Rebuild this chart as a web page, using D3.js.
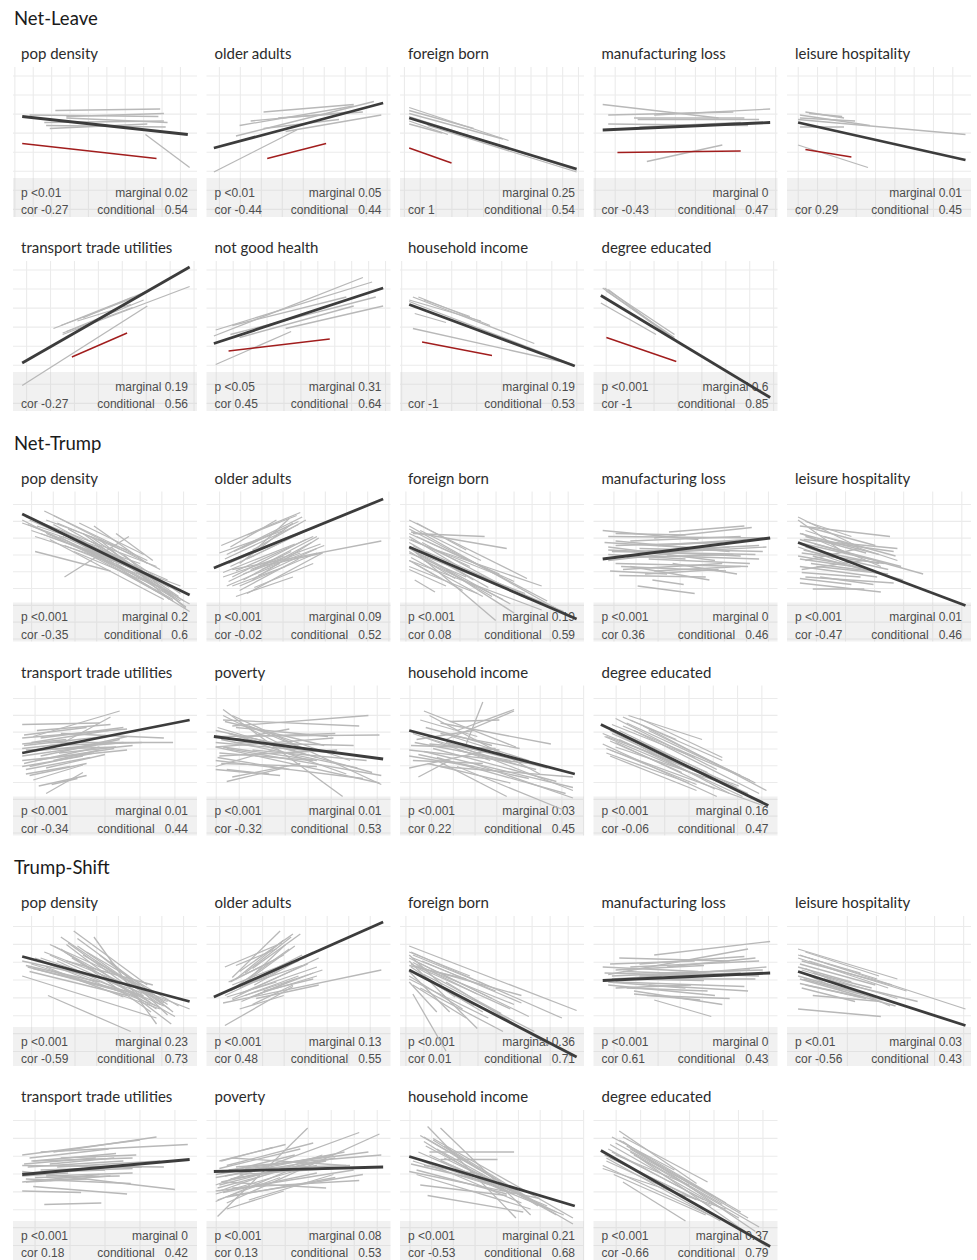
<!DOCTYPE html>
<html>
<head>
<meta charset="utf-8">
<script src="https://cdn.jsdelivr.net/npm/d3@7"></script>
<style>
  body { margin: 0; background: #fff; }
  svg { display: block; }
</style>
</head>
<body>
<svg id="chart" width="977" height="1260"></svg>
<script>
// ---------------------------------------------------------------
// Outcomes and predictors
// ---------------------------------------------------------------
const outcomes = ["Net-Leave", "Net-Trump", "Trump-Shift"];

const predictorsLeave = ["pop density", "older adults", "foreign born", "manufacturing loss", "leisure hospitality",
  "transport trade utilities", "not good health", "household income", "degree educated"];
const predictorsTrump = ["pop density", "older adults", "foreign born", "manufacturing loss", "leisure hospitality",
  "transport trade utilities", "poverty", "household income", "degree educated"];
const predictorsShift = ["pop density", "older adults", "foreign born", "manufacturing loss", "leisure hospitality",
  "transport trade utilities", "poverty", "household income", "degree educated"];

// ---------------------------------------------------------------
// Model summaries (p-value of slope variance, R2 marginal/conditional, slope-intercept cor)
// ---------------------------------------------------------------
const pLeave = ["<0.01", "<0.01", null, null, null, null, "<0.05", null, "<0.001"];
const marginalLeave = [0.02, 0.05, 0.25, 0, 0.01, 0.19, 0.31, 0.19, 0.6];
const corLeave = [-0.27, -0.44, 1, -0.43, 0.29, -0.27, 0.45, -1, -1];
const conditionalLeave = [0.54, 0.44, 0.54, 0.47, 0.45, 0.56, 0.64, 0.53, 0.85];

const pTrump = ["<0.001", "<0.001", "<0.001", "<0.001", "<0.001", "<0.001", "<0.001", "<0.001", "<0.001"];
const marginalTrump = [0.2, 0.09, 0.19, 0, 0.01, 0.01, 0.01, 0.03, 0.16];
const corTrump = [-0.35, -0.02, 0.08, 0.36, -0.47, -0.34, -0.32, 0.22, -0.06];
const conditionalTrump = [0.6, 0.52, 0.59, 0.46, 0.46, 0.44, 0.53, 0.45, 0.47];

const pShift = ["<0.001", "<0.001", "<0.001", "<0.001", "<0.01", "<0.001", "<0.001", "<0.001", "<0.001"];
const marginalShift = [0.23, 0.13, 0.36, 0, 0.03, 0, 0.08, 0.21, 0.37];
const corShift = [-0.59, 0.48, 0.01, 0.61, -0.56, 0.18, 0.13, -0.53, -0.66];
const conditionalShift = [0.73, 0.55, 0.71, 0.43, 0.43, 0.42, 0.53, 0.68, 0.79];

// ---------------------------------------------------------------
// Fitted lines on a standardised 0-100 scale: [xStart, yStart, xEnd, yEnd]
// fixed = population-level fit, outlier = highlighted region, groups = region-level fits
// ---------------------------------------------------------------
const fixedLeave = [[5,67,95,55],[4,46,96,76],[5,66,96,32],[5,58,96,63],[6,63,97,38],
  [5,32,96,96],[4,45,96,82],[5,71,95,30],[4,77,96,9]];
const outlierLeave = [[5,49,78,39],[33,39,65,49],[5,46,28,36],[13,43,80,44],[10,45,35,40],
  [32,36,62,52],[12,40,67,48],[12,46,50,37],[7,49,45,33]];
const groupsLeave = [
  [[23,71,80,72],[9,68,79,67],[29,67,82,69],[17,63,82,64],[18,61,83,60],[20,59,73,62],[29,66,84,63],[72,55,96,33]],
  [[4,30,49,58],[16,54,91,77],[43,57,95,68],[18,61,80,74],[31,70,80,75],[24,64,78,70],[31,59,72,65],[39,66,85,70]],
  [[5,73,59,51],[5,71,40,59],[5,69,56,52],[5,64,26,55],[5,62,23,56],[15,61,96,30],[5,67,96,31]],
  [[5,75,68,66],[33,68,96,72],[8,68,76,70],[22,66,82,66],[24,65,90,65],[8,62,84,61],[25,60,80,63],[29,37,70,48]],
  [[6,48,44,33],[6,65,97,55],[10,70,31,66],[7,68,45,61],[7,66,37,64],[7,60,31,60],[12,69,30,67]],
  [[5,17,73,70],[27,51,96,83],[22,55,69,77],[26,57,65,76],[29,53,71,74],[35,60,64,71],[27,52,65,69],[38,62,73,80]],
  [[5,31,46,53],[43,55,96,70],[4,50,85,89],[5,54,90,86],[14,57,76,76],[13,51,92,76],[18,49,80,70]],
  [[5,74,44,60],[7,76,73,45],[10,76,49,57],[8,65,25,59],[7,55,91,32],[5,73,94,31],[13,74,38,63]],
  [[4,72,34,51],[5,82,45,47],[6,82,44,51],[7,80,44,49],[5,76,96,9],[8,81,48,44]]
];

const fixedTrump = [[5,85,96,31],[4,49,96,95],[5,63,96,15],[5,55,96,69],[6,66,97,24],
  [5,55,96,77],[4,66,96,51],[5,70,95,41],[4,74,95,20]];
const outlierTrump = [null, null, null, null, null, null, null, null, null];
const groupsTrump = [
  [[12,60,53,47],[28,43,63,70],[17,87,73,54],[22,84,80,48],[36,79,71,58],[7,83,78,50],[9,81,84,41],[5,79,69,52],
   [15,72,91,37],[26,74,82,39],[29,66,87,32],[20,68,82,28],[38,72,94,23],[35,66,96,20],[47,68,85,28],[44,77,73,52],
   [24,79,67,57],[10,74,62,52],[33,60,78,37],[53,63,91,32],[40,59,80,32],[18,81,62,61],[13,77,47,63],[56,72,76,54],
   [49,54,87,27],[65,48,91,27],[27,70,75,43],[5,81,29,66],[56,52,96,25],[62,45,87,28],
   [8,78,58,52],[14,80,70,45],[20,76,75,42],[30,75,88,35],[42,70,90,30],[25,70,60,48],[18,72,55,52],[33,68,86,30],
   [45,64,93,27],[38,62,72,45],[50,60,80,40],[12,70,50,55],[28,64,70,44],[60,58,94,22],[22,78,85,36]],
  [[8,64,51,86],[11,58,52,83],[14,54,61,77],[5,50,47,71],[14,43,54,68],[18,37,60,59],[22,32,63,59],[16,30,47,43],
   [13,50,51,72],[25,41,61,69],[7,59,42,74],[13,63,38,81],[20,45,51,59],[14,48,95,67],[29,50,63,59],[23,57,45,82],
   [9,43,42,57],[32,52,60,70],[18,52,47,79],[25,61,54,81],[11,37,40,52],[22,71,49,84],[14,37,43,50],
   [10,55,50,78],[12,52,55,75],[16,47,58,70],[20,41,57,66],[9,46,48,65],[15,60,50,80],[24,48,62,65],[18,34,50,55],
   [28,44,60,62],[12,40,46,60],[22,55,56,75],[26,36,58,52],[19,62,46,78],[30,48,64,64]],
  [[5,81,69,42],[5,77,95,15],[7,72,46,70],[6,73,58,62],[5,68,56,43],[5,63,52,14],[9,59,89,20],[5,54,77,21],
   [7,61,68,32],[8,41,19,33],[5,50,42,32],[11,74,44,54],[15,63,77,37],[13,54,56,28],[5,59,36,43],[21,54,93,17],
   [5,70,32,50],[25,48,62,19],[9,79,36,61],[5,48,25,37],
   [5,66,48,36],[5,72,62,40],[7,64,40,41],[5,60,30,42],[9,70,54,45],[6,56,45,30],[5,75,80,27],[12,66,70,28],
   [8,52,34,34],[5,62,60,25],[10,58,50,30],[6,68,38,50],[14,60,85,22],[5,54,22,42]],
  [[5,74,57,68],[41,73,82,77],[33,69,86,76],[8,70,94,69],[12,67,74,60],[8,61,80,57],[14,57,74,63],[12,52,84,50],
   [16,48,70,52],[14,44,61,43],[24,37,55,32],[32,41,49,38],[33,59,94,63],[43,52,78,45],[8,63,66,54],[20,50,63,41],
   [45,65,96,69],[22,60,90,64],[33,47,80,50],[8,54,45,59],
   [6,66,60,62],[10,60,88,58],[18,56,76,58],[12,64,70,66],[25,62,92,60],[8,58,50,55],[30,55,85,52],[15,50,72,47],
   [20,67,80,70],[40,57,90,55],[9,47,40,45],[28,45,68,48],[35,64,78,67],[12,72,50,71]],
  [[6,83,39,63],[7,77,56,70],[10,74,60,54],[7,68,74,45],[8,59,53,52],[7,50,49,43],[10,43,58,39],[7,39,51,33],
   [14,35,42,35],[10,54,39,62],[8,72,51,50],[10,63,57,43],[14,57,63,41],[6,81,30,60],[20,70,59,57],[8,48,41,54],
   [10,70,43,59],[16,50,55,45],[6,63,37,50],[18,43,47,38],
   [7,72,50,58],[6,66,45,55],[9,61,55,48],[7,55,42,49],[12,76,48,64],[8,46,40,43],[15,65,62,50],[6,57,30,52],
   [10,80,35,70],[18,60,50,52],[7,42,35,38],[22,66,58,60],[9,68,60,62],[13,52,45,47]],
  [[5,74,47,75],[5,65,62,71],[11,66,58,83],[20,57,53,79],[5,50,62,57],[5,46,38,53],[11,37,38,47],[18,28,38,42],
   [21,34,35,38],[20,62,87,62],[26,68,82,65],[7,57,56,59],[6,48,47,59],[5,61,29,64],[15,53,58,64],[9,46,44,55],
   [29,57,62,66],[13,70,53,74],[22,50,47,57],[7,41,31,46],
   [6,60,50,66],[8,56,60,62],[5,53,45,60],[10,62,52,70],[12,50,55,58],[7,44,42,52],[15,65,60,72],[5,58,35,62],
   [18,45,50,54],[9,40,40,48],[20,60,70,62],[6,67,40,72],[25,55,65,60],[14,33,40,40]],
  [[9,84,74,26],[14,80,95,34],[9,77,83,73],[14,73,88,80],[5,66,94,67],[5,59,69,65],[7,53,71,57],[11,36,42,45],
   [14,39,51,48],[5,50,85,38],[13,68,76,41],[5,59,94,35],[18,75,78,50],[5,46,36,57],[9,59,60,50],[23,73,54,57],
   [11,44,34,41],[14,64,45,71],[5,70,47,59],[25,57,87,50],
   [6,72,60,52],[8,64,82,45],[5,62,70,55],[10,76,64,60],[7,55,58,50],[12,68,90,42],[6,52,45,44],[9,80,50,55],
   [15,62,80,60],[5,44,40,40],[20,66,70,68],[11,58,95,40],[8,48,60,46],[16,72,66,66]],
  [[13,83,63,59],[16,80,76,41],[27,76,54,77],[31,70,62,84],[36,61,45,89],[25,64,62,83],[5,57,71,48],[5,45,49,57],
   [10,39,27,50],[13,56,94,32],[22,46,94,39],[31,46,89,17],[40,48,94,25],[20,50,58,26],[7,68,49,50],[22,75,82,61],
   [11,77,42,66],[31,57,74,44],[16,61,54,57],[5,53,40,46],
   [8,62,60,50],[12,66,70,45],[6,60,52,58],[18,58,85,36],[10,54,70,38],[25,62,80,45],[14,72,50,60],[20,52,90,28],
   [7,50,45,48],[28,66,70,50],[15,48,60,35],[35,58,94,30],[9,64,40,70],[22,68,65,58]],
  [[19,80,59,64],[12,78,67,44],[9,70,74,28],[5,61,67,26],[9,57,92,20],[16,79,70,50],[7,66,79,33],[9,53,56,30],
   [5,68,63,39],[16,73,85,37],[12,59,70,35],[20,77,45,64],[7,55,52,35],[14,64,81,26],[27,73,94,30],
   [8,72,62,42],[10,68,72,34],[6,66,60,38],[14,70,78,32],[12,62,66,31],[18,75,80,40],[7,58,56,34],[22,70,90,28],
   [10,74,55,52],[16,66,84,28],[25,78,70,52],[9,63,48,42],[30,70,88,35]]
];

const fixedShift = [[5,73,96,43],[4,46,96,96],[5,64,96,6],[5,57,96,62],[6,63,97,27],
  [5,57,96,67],[4,59,96,62],[5,69,95,36],[4,73,96,9]];
const outlierShift = [null, null, null, null, null, null, null, null, null];
const groupsShift = [
  [[26,86,80,41],[35,85,84,41],[44,86,78,28],[5,60,78,32],[19,47,64,23],[17,76,96,38],[29,81,86,28],[5,70,65,54],
   [11,65,71,47],[15,72,84,43],[26,78,75,36],[38,74,80,45],[29,70,76,54],[9,63,62,47],[47,74,87,36],[20,81,69,54],
   [33,90,73,54],[7,67,47,56],[53,70,84,34],[22,63,80,38],
   [12,72,72,45],[20,74,82,40],[28,76,78,38],[10,68,68,46],[35,80,85,38],[24,70,70,44],[15,70,78,40],[40,76,90,40],
   [30,82,75,42],[18,66,60,46],[45,70,82,42],[8,66,58,50],[32,72,88,33],[22,80,70,48]],
  [[10,27,47,53],[9,42,95,64],[10,66,41,82],[14,59,40,90],[18,63,47,88],[25,65,51,88],[14,45,61,72],[18,52,58,76],
   [21,47,63,64],[25,41,47,54],[13,50,52,74],[14,54,47,70],[23,58,43,81],[18,38,42,47],[13,56,42,74],[27,45,61,54],
   [11,46,38,56],[16,67,38,78],[21,54,52,67],[31,50,58,58],
   [12,50,50,70],[15,52,45,78],[18,48,55,68],[20,55,48,80],[10,47,40,64],[22,50,60,66],[16,58,42,84],[24,46,58,62],
   [14,44,50,60],[26,54,55,74],[19,43,48,58],[28,48,60,60],[12,56,36,70],[21,62,46,86]],
  [[5,80,96,37],[6,76,88,32],[7,72,52,50],[5,70,42,25],[7,48,25,10],[5,63,27,36],[9,67,62,41],[5,58,48,32],
   [13,61,73,23],[7,54,36,32],[19,63,66,47],[5,74,23,54],[11,52,56,23],[25,56,81,14],[5,67,36,58],
   [5,72,50,45],[6,68,60,38],[5,64,40,40],[8,70,70,33],[5,60,34,38],[7,74,45,55],[6,66,30,46],[10,65,55,35],
   [5,76,38,60],[9,62,45,36],[12,70,66,42],[5,56,20,36],[7,69,42,48]],
  [[5,66,57,63],[14,72,74,70],[33,74,96,83],[8,61,84,78],[12,56,82,53],[22,50,70,41],[33,44,64,33],[8,54,66,47],
   [16,63,90,60],[41,58,88,58],[12,52,53,54],[25,68,82,73],[45,61,94,66],[29,47,74,45],[10,58,37,60],
   [6,62,70,60],[10,60,85,64],[15,58,60,57],[20,66,90,70],[8,56,50,52],[25,60,80,62],[12,64,60,67],[30,54,84,50],
   [18,52,62,50],[35,62,92,64],[9,68,55,70],[22,48,58,44],[40,66,88,72]],
  [[6,78,60,58],[7,74,97,38],[6,38,51,33],[8,70,57,54],[10,65,56,40],[7,58,59,40],[10,54,43,45],[14,47,51,43],
   [7,63,30,50],[12,72,49,58],[8,52,37,43],[20,58,71,43],
   [6,72,55,52],[7,68,48,54],[8,64,60,45],[6,60,42,48],[10,76,50,60],[7,55,40,46],[12,70,65,50],[6,66,35,56],
   [9,58,52,44],[14,62,46,52],[6,74,40,62]],
  [[22,72,78,82],[5,70,69,80],[5,46,37,45],[17,37,48,38],[11,49,62,44],[5,59,88,47],[15,72,95,77],[5,63,82,62],
   [7,54,64,51],[11,66,56,71],[17,59,65,61],[5,52,47,57],[20,53,53,56],[9,57,38,61],[26,68,67,70],
   [8,62,60,66],[5,58,50,60],[10,66,65,68],[12,55,58,56],[6,64,45,68],[15,60,70,62],[7,52,40,54],[20,64,55,68],
   [9,68,52,74],[18,56,65,58],[5,56,30,58],[24,62,80,66]],
  [[6,29,55,88],[11,38,94,84],[8,66,36,75],[5,50,83,85],[7,46,63,70],[5,57,69,70],[11,63,58,78],[14,43,85,57],
   [5,39,51,63],[9,52,65,48],[14,68,76,63],[7,61,51,74],[14,48,83,53],[18,57,69,61],[11,34,42,46],[23,40,69,57],
   [7,66,43,77],[13,54,60,63],[21,61,78,63],[5,46,32,50],
   [6,48,60,66],[8,52,70,68],[5,44,50,60],[10,56,75,72],[7,50,45,62],[12,60,88,72],[6,40,40,55],[14,54,65,66],
   [5,55,55,65],[9,45,60,58],[16,62,95,70],[8,58,48,70],[11,42,70,55],[18,48,80,60]],
  [[11,83,94,24],[15,89,63,28],[22,88,71,30],[16,72,62,72],[22,67,53,67],[15,43,67,32],[5,59,76,41],[11,50,58,43],
   [13,79,56,46],[7,66,49,50],[18,81,94,28],[9,57,71,34],[24,68,85,32],[31,59,89,30],[13,63,45,57],
   [10,72,60,45],[14,76,70,40],[8,68,55,48],[18,80,75,36],[12,66,66,38],[20,74,85,30],[6,64,48,52],[16,70,62,44],
   [24,76,72,40],[9,60,58,44],[22,66,80,36],[13,82,55,52]],
  [[14,86,56,51],[10,82,44,60],[5,61,72,34],[16,52,50,26],[7,68,69,26],[9,77,79,28],[16,79,88,19],[5,63,63,30],
   [20,72,70,37],[11,57,61,30],[25,68,94,9],[12,70,52,50],
   [8,74,60,40],[12,78,66,42],[6,70,56,40],[14,80,72,38],[10,72,70,34],[18,76,80,32],[7,66,50,42],[16,82,62,52],
   [20,74,84,28],[9,68,64,36],[22,70,90,22]]
];

// ---------------------------------------------------------------
// Grid breaks on the same standardised scale (step and first break)
// ---------------------------------------------------------------
const xBreakStepLeave = [10, 11.4, 8.6, 10.9, 10.5, 13, 9.2, 13.6, 13];
const xBreakFirstLeave = [1, 7, 2.4, 0.9, 6.1, 7.4, 5.3, 0.9, 6.9];
const xBreakStepTrump = [11.8, 11.5, 9.8, 12, 15.8, 19, 12.5, 11.8, 13.2];
const xBreakFirstTrump = [10.1, 7.1, 3.2, 11.1, 16, 12, 5.3, 5.4, 12.3];
const xBreakStepShift = [11.8, 11.7, 9.8, 12, 15.8, 19, 12.5, 11.8, 13.3];
const xBreakFirstShift = [10.1, 7.1, 3.2, 11.1, 17, 12, 5.3, 5.4, 12.3];
const yBreaksLeave = [94, 12.7];   // first break, step
const yBreaksTrump = [91.3, 11.2];
const yBreaksShift = [93, 11.9];

// ---------------------------------------------------------------
// Assemble sections
// ---------------------------------------------------------------
const sections = [
  { title: outcomes[0], names: predictorsLeave, p: pLeave, marginal: marginalLeave, cor: corLeave,
    conditional: conditionalLeave, fixed: fixedLeave, outlier: outlierLeave, groups: groupsLeave,
    xStep: xBreakStepLeave, xFirst: xBreakFirstLeave, yBreaks: yBreaksLeave },
  { title: outcomes[1], names: predictorsTrump, p: pTrump, marginal: marginalTrump, cor: corTrump,
    conditional: conditionalTrump, fixed: fixedTrump, outlier: outlierTrump, groups: groupsTrump,
    xStep: xBreakStepTrump, xFirst: xBreakFirstTrump, yBreaks: yBreaksTrump },
  { title: outcomes[2], names: predictorsShift, p: pShift, marginal: marginalShift, cor: corShift,
    conditional: conditionalShift, fixed: fixedShift, outlier: outlierShift, groups: groupsShift,
    xStep: xBreakStepShift, xFirst: xBreakFirstShift, yBreaks: yBreaksShift }
];

// ---------------------------------------------------------------
// Layout
// ---------------------------------------------------------------
const panelW = 184, panelH = 150, stripH = 39;
const leftEdge = 13, colPitch = 193.5, rowPitch = 194, sectionPitch = 424.5, firstTop = 67;
const nbsp3 = "\u00A0\u00A0\u00A0";

const svg = d3.select("#chart");
svg.append("rect").attr("width", 977).attr("height", 1260).attr("fill", "#ffffff");

sections.forEach((sec, s) => {
  const sOff = s * sectionPitch;

  svg.append("text")
    .attr("x", 14).attr("y", 25 + sOff)
    .style("font-family", "Lato, 'Open Sans', sans-serif")
    .attr("font-size", 18.5).attr("fill", "#1a1a1a")
    .text(sec.title);

  sec.names.forEach((name, i) => {
    const r = i < 5 ? 0 : 1;
    const c = i < 5 ? i : i - 5;
    const x0 = leftEdge + c * colPitch;
    const top = firstTop + sOff + r * rowPitch;

    const x = d3.scaleLinear().domain([0, 100]).range([x0, x0 + panelW]);
    const y = d3.scaleLinear().domain([0, 100]).range([top + panelH, top]);

    const g = svg.append("g").attr("class", "panel");

    // grid
    const xb = d3.range(sec.xFirst[i], 100, sec.xStep[i]);
    const yb = d3.range(sec.yBreaks[0], 0, -sec.yBreaks[1]);
    g.selectAll("line.gx").data(xb).join("line")
      .attr("class", "gx")
      .attr("x1", d => x(d)).attr("x2", d => x(d))
      .attr("y1", y(100)).attr("y2", y(0))
      .attr("stroke", "#ebebeb").attr("stroke-width", 1.1);
    g.selectAll("line.gy").data(yb).join("line")
      .attr("class", "gy")
      .attr("x1", x(0)).attr("x2", x(100))
      .attr("y1", d => y(d)).attr("y2", d => y(d))
      .attr("stroke", "#ebebeb").attr("stroke-width", 1.1);

    // annotation strip
    g.append("rect")
      .attr("x", x(0)).attr("y", y(0) - stripH)
      .attr("width", panelW).attr("height", stripH)
      .attr("fill", "#c8c8c8").attr("fill-opacity", 0.25);

    // panel title
    g.append("text")
      .attr("x", x0 + 8).attr("y", top - 8)
      .style("font-family", "Lato, 'Open Sans', sans-serif")
      .attr("font-size", 15).attr("fill", "#2b2b2b")
      .text(name);

    // statistics
    const rowA = y(0) - 20.5, rowB = y(0) - 3;
    const addText = (tx, ty, anchor, str) => g.append("text")
      .attr("x", tx).attr("y", ty).attr("text-anchor", anchor)
      .style("font-family", "'Liberation Sans', Arial, sans-serif")
      .attr("font-size", 12).attr("fill", "#4d4d4d")
      .text(str);
    if (sec.p[i]) addText(x0 + 8, rowA, "start", "p " + sec.p[i]);
    addText(x0 + 175, rowA, "end", "marginal " + sec.marginal[i]);
    addText(x0 + 8, rowB, "start", "cor " + sec.cor[i]);
    addText(x0 + 175, rowB, "end", "conditional" + nbsp3 + sec.conditional[i]);

    // region-level fits
    g.selectAll("line.grp").data(sec.groups[i]).join("line")
      .attr("class", "grp")
      .attr("x1", d => x(d[0])).attr("y1", d => y(d[1]))
      .attr("x2", d => x(d[2])).attr("y2", d => y(d[3]))
      .attr("stroke", "#b8b8b8").attr("stroke-width", 1.3);

    // highlighted region
    if (sec.outlier[i]) {
      const o = sec.outlier[i];
      g.append("line")
        .attr("x1", x(o[0])).attr("y1", y(o[1]))
        .attr("x2", x(o[2])).attr("y2", y(o[3]))
        .attr("stroke", "#a11d1d").attr("stroke-width", 1.4);
    }

    // population-level fit
    const f = sec.fixed[i];
    g.append("line")
      .attr("x1", x(f[0])).attr("y1", y(f[1]))
      .attr("x2", x(f[2])).attr("y2", y(f[3]))
      .attr("stroke", "#3c3c3c").attr("stroke-width", 2.8);
  });
});
</script>
</body>
</html>
